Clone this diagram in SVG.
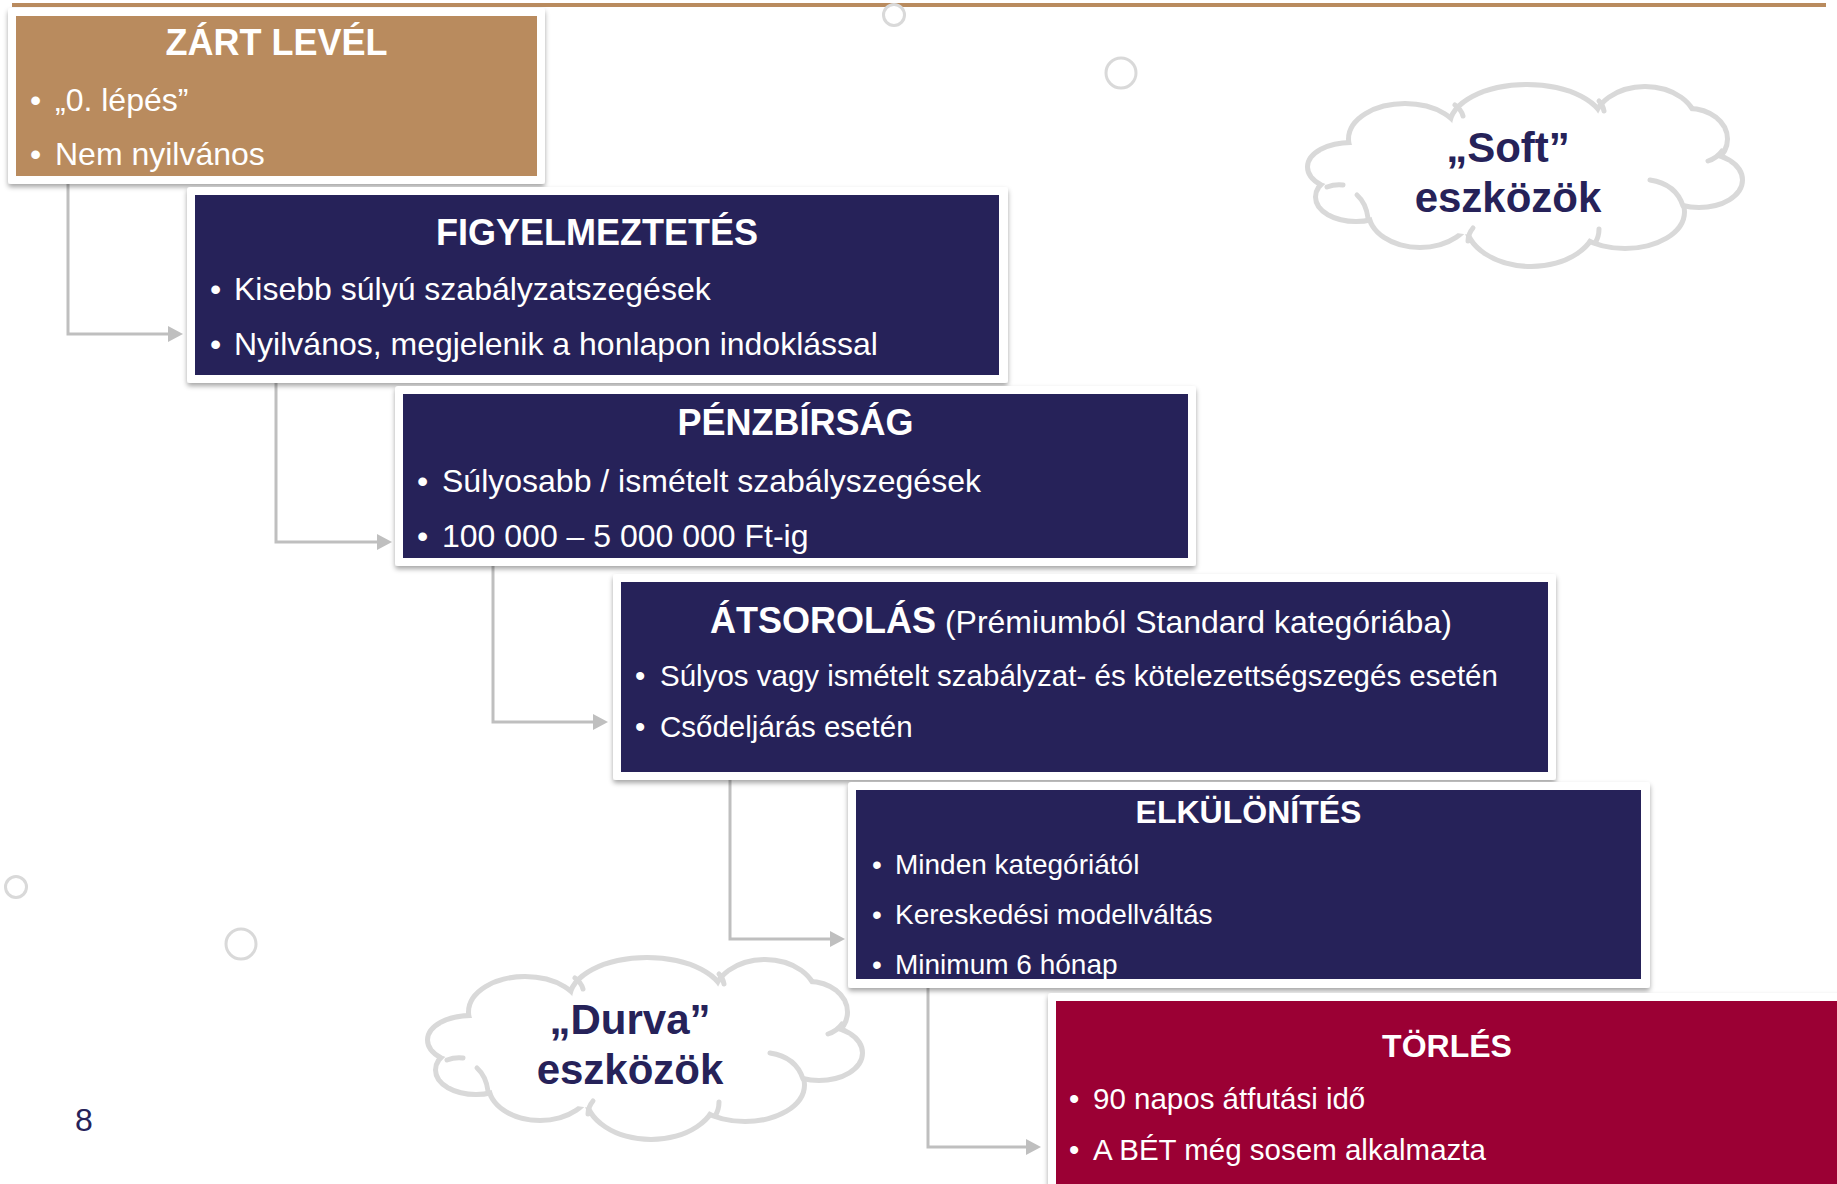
<svg xmlns="http://www.w3.org/2000/svg" xmlns:xlink="http://www.w3.org/1999/xlink" width="1837" height="1184" viewBox="0 0 1837 1184">
<style>
.frame{fill:#ffffff;filter:url(#sh)}
.navy{fill:#262259}
.brown{fill:#b98b5e}
.red{fill:#9b0034}
.t{font-family:"Liberation Sans",Arial,Helvetica,sans-serif;fill:#ffffff}
.h{font-weight:bold;text-anchor:middle}
.conn{fill:none;stroke:#bfbfbf;stroke-width:3;marker-end:url(#arr)}
.ring{fill:#ffffff;stroke:#d9d9d9;stroke-width:3}
.ct{font-family:"Liberation Sans",Arial,Helvetica,sans-serif;font-weight:bold;font-size:42px;fill:#262259;text-anchor:middle}
</style>
<defs>
<filter id="sh" x="-5%" y="-5%" width="110%" height="115%">
<feDropShadow dx="0" dy="3" stdDeviation="2.5" flood-color="#000" flood-opacity="0.35"/>
</filter>
<marker id="arr" markerUnits="userSpaceOnUse" markerWidth="16" markerHeight="16" refX="10" refY="8" orient="auto">
<path d="M0,0 L15,8 L0,16 z" fill="#bfbfbf"/>
</marker>
<g id="cloud">
<g fill="none" stroke="#d9d9d9" stroke-width="10">
<ellipse cx="100" cy="56" rx="54" ry="33"/>
<ellipse cx="222" cy="43" rx="75" ry="39"/>
<ellipse cx="340" cy="41" rx="49" ry="35"/>
<ellipse cx="384" cy="56" rx="36" ry="28"/>
<ellipse cx="394" cy="97" rx="41" ry="25"/>
<ellipse cx="320" cy="129" rx="57" ry="34"/>
<ellipse cx="226" cy="139" rx="63" ry="42"/>
<ellipse cx="115" cy="129" rx="49" ry="33"/>
<ellipse cx="51" cy="114" rx="38" ry="22"/>
<ellipse cx="46" cy="84" rx="41" ry="22"/>
</g>
<g fill="#ffffff">
<ellipse cx="100" cy="56" rx="54" ry="33"/>
<ellipse cx="222" cy="43" rx="75" ry="39"/>
<ellipse cx="340" cy="41" rx="49" ry="35"/>
<ellipse cx="384" cy="56" rx="36" ry="28"/>
<ellipse cx="394" cy="97" rx="41" ry="25"/>
<ellipse cx="320" cy="129" rx="57" ry="34"/>
<ellipse cx="226" cy="139" rx="63" ry="42"/>
<ellipse cx="115" cy="129" rx="49" ry="33"/>
<ellipse cx="51" cy="114" rx="38" ry="22"/>
<ellipse cx="46" cy="84" rx="41" ry="22"/>
<ellipse cx="220" cy="95" rx="170" ry="60"/>
</g>
<g fill="none" stroke="#d9d9d9" stroke-width="5" stroke-linecap="round">
<path d="M150,22 Q156,26 158,33"/>
<path d="M294,18 Q298,22 299,28"/>
<path d="M417,68 Q412,75 403,78"/>
<path d="M345,97 Q371,101 378,123"/>
<path d="M290,160 Q294,154 294,146"/>
<path d="M163,158 Q163,151 168,145"/>
<path d="M52,112 Q61,120 63,135"/>
<path d="M22,104 Q30,101 38,102"/>
</g>
</g>
</defs>

<rect x="0" y="0" width="1837" height="1184" fill="#ffffff"/>
<rect x="12" y="3" width="1814" height="4" fill="#b98b5e"/>

<g id="decor">
<circle class="ring" cx="894" cy="15" r="10.5"/>
<circle class="ring" cx="1121" cy="73" r="15"/>
<circle class="ring" cx="16" cy="887" r="10.5"/>
<circle class="ring" cx="241" cy="944" r="15"/>
</g>

<g id="connectors">
<path class="conn" d="M68,184 V334 H178"/>
<path class="conn" d="M276,383 V542 H387"/>
<path class="conn" d="M493,566 V722 H603"/>
<path class="conn" d="M730,780 V939 H840"/>
<path class="conn" d="M928,988 V1147 H1036"/>
</g>

<g id="zart-level">
<rect class="frame" x="8" y="8" width="537" height="176" rx="3"/>
<rect class="brown" x="16" y="16" width="521" height="160"/>
<text class="t h" x="276.5" y="55" font-size="36">ZÁRT LEVÉL</text>
<text class="t" font-size="32"><tspan x="30" y="111">•</tspan><tspan x="55" y="111">„0. lépés”</tspan></text>
<text class="t" font-size="32"><tspan x="30" y="165">•</tspan><tspan x="55" y="165">Nem nyilvános</tspan></text>
</g>

<g id="figyelmeztetes">
<rect class="frame" x="187" y="187" width="821" height="196" rx="3"/>
<rect class="navy" x="195" y="195" width="804" height="180"/>
<text class="t h" x="597" y="245" font-size="36">FIGYELMEZTETÉS</text>
<text class="t" font-size="32"><tspan x="210" y="300">•</tspan><tspan x="234" y="300">Kisebb súlyú szabályzatszegések</tspan></text>
<text class="t" font-size="32"><tspan x="210" y="355">•</tspan><tspan x="234" y="355">Nyilvános, megjelenik a honlapon indoklással</tspan></text>
</g>

<g id="penzbirsag">
<rect class="frame" x="395" y="386" width="801" height="180" rx="3"/>
<rect class="navy" x="403" y="394" width="785" height="164"/>
<text class="t h" x="795.5" y="435" font-size="36">PÉNZBÍRSÁG</text>
<text class="t" font-size="32"><tspan x="417" y="492">•</tspan><tspan x="442" y="492">Súlyosabb / ismételt szabályszegések</tspan></text>
<text class="t" font-size="32"><tspan x="417" y="547">•</tspan><tspan x="442" y="547">100 000 – 5 000 000 Ft-ig</tspan></text>
</g>

<g id="atsorolas">
<rect class="frame" x="613" y="574" width="943" height="206" rx="3"/>
<rect class="navy" x="621" y="582" width="927" height="190"/>
<text class="t" x="710" y="633"><tspan font-weight="bold" font-size="36">ÁTSOROLÁS</tspan><tspan font-size="32"> (Prémiumból Standard kategóriába)</tspan></text>
<text class="t" font-size="29.5"><tspan x="635" y="686">•</tspan><tspan x="660" y="686">Súlyos vagy ismételt szabályzat- és kötelezettségszegés esetén</tspan></text>
<text class="t" font-size="29.5"><tspan x="635" y="737">•</tspan><tspan x="660" y="737">Csődeljárás esetén</tspan></text>
</g>

<g id="elkulonites">
<rect class="frame" x="848" y="782" width="802" height="206" rx="3"/>
<rect class="navy" x="856" y="790" width="785" height="189"/>
<text class="t h" x="1248.5" y="823" font-size="32">ELKÜLÖNÍTÉS</text>
<text class="t" font-size="28"><tspan x="872" y="874">•</tspan><tspan x="895" y="874">Minden kategóriától</tspan></text>
<text class="t" font-size="28"><tspan x="872" y="924">•</tspan><tspan x="895" y="924">Kereskedési modellváltás</tspan></text>
<text class="t" font-size="28"><tspan x="872" y="974">•</tspan><tspan x="895" y="974">Minimum 6 hónap</tspan></text>
</g>

<g id="torles">
<rect class="frame" x="1048" y="993" width="800" height="200" rx="3"/>
<rect class="red" x="1056" y="1001" width="781" height="183"/>
<text class="t h" x="1447" y="1057" font-size="32">TÖRLÉS</text>
<text class="t" font-size="29.5"><tspan x="1069" y="1109">•</tspan><tspan x="1093" y="1109">90 napos átfutási idő</tspan></text>
<text class="t" font-size="29.5"><tspan x="1069" y="1160">•</tspan><tspan x="1093" y="1160">A BÉT még sosem alkalmazta</tspan></text>
</g>

<g id="soft-cloud">
<use xlink:href="#cloud" href="#cloud" transform="translate(1305,83)"/>
<text class="ct" x="1508" y="162">„Soft”</text>
<text class="ct" x="1508" y="212">eszközök</text>
</g>

<g id="durva-cloud">
<use xlink:href="#cloud" href="#cloud" transform="translate(425,956)"/>
<text class="ct" x="630" y="1034">„Durva”</text>
<text class="ct" x="630" y="1084">eszközök</text>
</g>

<text id="page-number" x="84" y="1131" font-family="Liberation Sans, Arial, sans-serif" font-size="32" fill="#262259" text-anchor="middle">8</text>
</svg>
